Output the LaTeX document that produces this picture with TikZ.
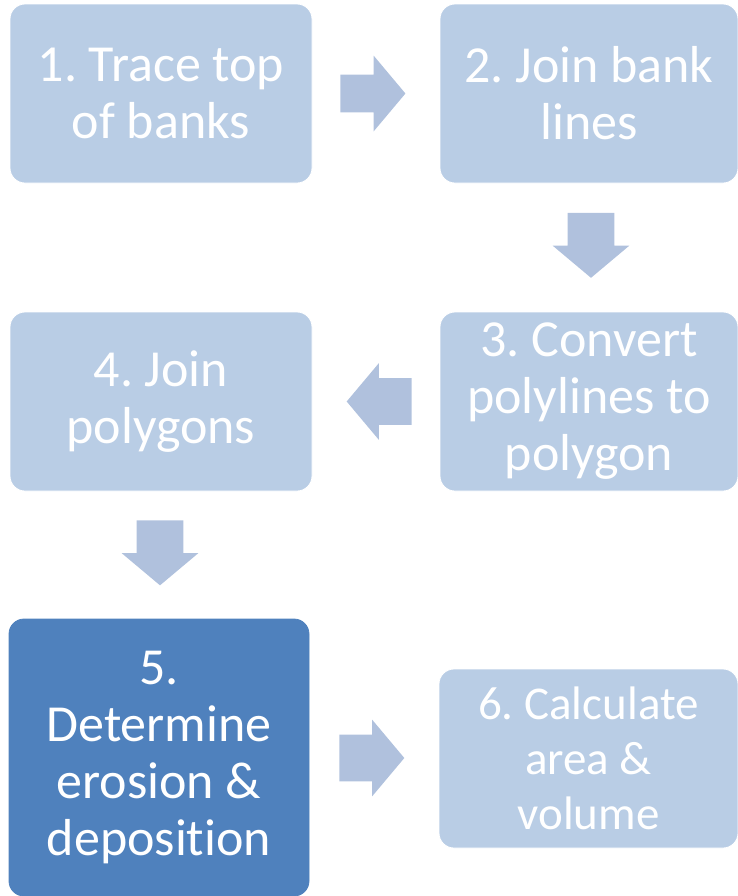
\documentclass[tikz,border=0pt]{standalone}
\usepackage{fontspec}
\setmainfont{Carlito}[Ligatures=NoCommon]
\usetikzlibrary{calc, positioning, shapes.arrows}

\definecolor{stepfill}{HTML}{B9CDE5}
\definecolor{stepdark}{HTML}{4F81BD}
\definecolor{arrowfill}{HTML}{B0C1DD}

\begin{document}
\frenchspacing
\begin{tikzpicture}[
        x=0.5pt, y=-0.5pt,
        stepbox/.style={rectangle, rounded corners=7.5pt, fill=stepfill, draw=white, line width=0.4pt,
            text=white, align=center, inner sep=0pt, minimum height=89.5pt,
            font=\fontsize{26}{28.5}\selectfont},
        fatarrow/.style={single arrow, fill=arrowfill, draw=none, inner xsep=0pt, inner ysep=11.5pt,
            single arrow head extend=7.5pt, single arrow tip angle=100, minimum height=32.5pt}
    ]
        \useasboundingbox (0,0) rectangle (738,896);

        % Die sechs Schritte
        \node[stepbox, minimum width=151pt] (s1) at (161,93.5) {1. Trace top\\of banks};
        \node[stepbox, minimum width=149pt] (s2) at (589,93.5) {2. Join bank\\lines};
        \node[stepbox, minimum width=149pt] (s3) at (589,401.5) {3. Convert\\polylines to\\polygon};
        \node[stepbox, minimum width=151pt] (s4) at (161,401.5) {4. Join\\polygons};
        \node[stepbox, minimum width=150pt, minimum height=138.5pt, fill=stepdark, draw=stepdark] (s5) at (159,757.5)
            {5.\\Determine\\erosion \&\\deposition};
        \node[stepbox, minimum width=149.5pt, font=\fontsize{23.5}{27.5}\selectfont] (s6) at (588.5,758.5)
            {6. Calculate\\area \&\\volume};

        % Pfeile zwischen den Schritten
        \node[fatarrow, inner ysep=9.25pt, single arrow head extend=9.5pt] (a12) at ($(s1.east)!0.5!(s2.west)+(-11,0)$) {};
        \node[fatarrow, rotate=-90] (a23) at ($(s2.south)!0.5!(s3.north)+(2,-12)$) {};
        \node[fatarrow, rotate=180] (a34) at ($(s3.west)!0.5!(s4.east)+(13,0)$) {};
        \node[fatarrow, rotate=-90] (a45) at ($(s4.south)!0.5!(s5.north)+(0,-12)$) {};
        \node[fatarrow] (a56) at ($(s5.east)!0.5!(s6.west)+(-12,0)$) {};
    \end{tikzpicture}
\end{document}
